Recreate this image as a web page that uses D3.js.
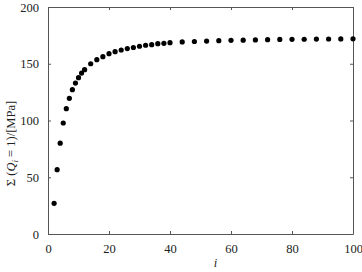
<!DOCTYPE html>
<html>
<head>
<meta charset="utf-8">
<script src="https://cdn.jsdelivr.net/npm/d3@7"></script>
<style>
  body { margin: 0; background: #fff; }
  svg text { font-family: "Liberation Serif", "DejaVu Serif", serif; }
</style>
</head>
<body>
<div id="chart"></div>
<script>
const width = 362;
const height = 272;
const margin = { top: 7, right: 9, bottom: 38, left: 48 };

const iValues = [2, 3, 4, 5, 6, 7, 8, 9, 10, 11, 12, 14, 16, 18, 20, 22, 24, 26, 28, 30, 32, 34, 36, 38, 40,
                 44, 48, 52, 56, 60, 64, 68, 72, 76, 80, 84, 88, 92, 96, 100];
const sumValues = [27, 56.7, 80, 97.8, 110.4, 119.5, 127.2, 133, 137.7, 141.8, 144.8, 150, 153.6, 156.2, 158.9,
                   160.6, 162.1, 163.4, 164.3, 165.4, 166.3, 166.8, 167.7, 168, 168.6,
                   169.2, 169.6, 170, 170.3, 170.6, 170.8, 171, 171.2, 171.4, 171.5, 171.6, 171.7, 171.8, 171.9, 172];
const xTicks = [0, 20, 40, 60, 80, 100];
const yTicks = [0, 50, 100, 150, 200];

const data = iValues.map((d, k) => ({ i: d, v: sumValues[k] }));

const svg = d3.select("#chart").append("svg")
  .attr("width", width)
  .attr("height", height);

const x = d3.scaleLinear().domain([0, 100]).range([margin.left, width - margin.right]);
const y = d3.scaleLinear().domain([0, 200]).range([height - margin.bottom, margin.top]);

const axisColor = "#555";
const tickLen = 3;

function styleAxis(g) {
  g.selectAll("path, line").attr("stroke", axisColor);
  g.selectAll("text").attr("font-size", 12.5).attr("fill", "#222");
}

// bottom
svg.append("g")
  .attr("transform", `translate(0,${height - margin.bottom})`)
  .call(d3.axisBottom(x).tickValues(xTicks).tickSizeInner(-tickLen).tickSizeOuter(0).tickPadding(10))
  .call(styleAxis);

// top
svg.append("g")
  .attr("transform", `translate(0,${margin.top})`)
  .call(d3.axisTop(x).tickValues(xTicks).tickSizeInner(-tickLen).tickSizeOuter(0).tickFormat(""))
  .call(styleAxis);

// left
svg.append("g")
  .attr("transform", `translate(${margin.left},0)`)
  .call(d3.axisLeft(y).tickValues(yTicks).tickSizeInner(-tickLen).tickSizeOuter(0).tickPadding(9))
  .call(styleAxis);

// right
svg.append("g")
  .attr("transform", `translate(${width - margin.right},0)`)
  .call(d3.axisRight(y).tickValues(yTicks).tickSizeInner(-tickLen).tickSizeOuter(0).tickFormat(""))
  .call(styleAxis);

svg.selectAll("circle")
  .data(data)
  .enter()
  .append("circle")
  .attr("cx", d => x(d.i))
  .attr("cy", d => y(d.v))
  .attr("r", 2.6)
  .attr("fill", "#000");

// x label
svg.append("text")
  .attr("x", (margin.left + width - margin.right) / 2 + 15)
  .attr("y", 267)
  .attr("text-anchor", "middle")
  .attr("font-size", 12.5)
  .attr("font-style", "italic")
  .attr("fill", "#222")
  .text("i");

// y label
const yl = svg.append("text")
  .attr("transform", `translate(15,${(margin.top + height - margin.bottom) / 2 + 23}) rotate(-90)`)
  .attr("text-anchor", "middle")
  .attr("font-size", 12.5)
  .attr("fill", "#222");
yl.append("tspan").text("Σ (");
yl.append("tspan").attr("font-style", "italic").text("Q");
yl.append("tspan").attr("font-style", "italic").attr("font-size", 9).attr("dy", 3).text("i");
yl.append("tspan").attr("dy", -3).text(" = 1)/[MPa]");
</script>
</body>
</html>
